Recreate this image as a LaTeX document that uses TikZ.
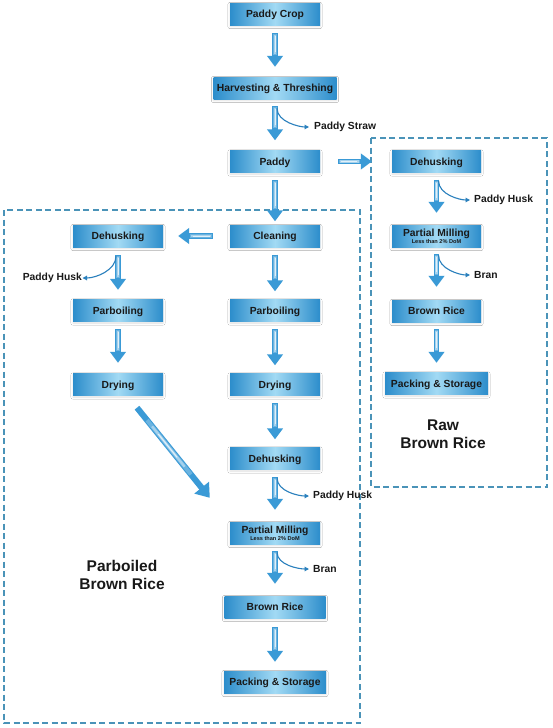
\documentclass[tikz,border=0pt]{standalone}
\usepackage{fontspec}
\setmainfont{Liberation Sans}
\usetikzlibrary{arrows.meta,calc,shadows.blur}
\definecolor{boxdark}{HTML}{2C8DCB}
\definecolor{boxlight}{HTML}{A2DAF4}
\definecolor{ablue}{HTML}{3A9AD6}
\definecolor{lblue}{HTML}{2A80BD}
\definecolor{dblue}{HTML}{4A93B8}
\begin{document}
\begin{tikzpicture}[x=1pt,y=-1pt,
  box/.style={rectangle, minimum height=22pt, minimum width=#1, inner sep=0pt,
    text height=7.5pt, text depth=0.3pt,
    left color=boxdark, right color=boxdark, middle color=boxlight,
    font=\bfseries\fontsize{10.3}{12}\selectfont, text=black!90,
    blur shadow={shadow xshift=0pt, shadow yshift=-1.5pt, shadow blur steps=5, shadow opacity=12}},
  box/.default=90pt,
  twoline/.style={align=center, text height=, text depth=},
  fa/.style 2 args={draw=ablue, line width=5.5pt, shorten <=#1, shorten >=#2,
    -{Triangle[width=15.5pt,length=11pt]},
    postaction={draw=ablue!75!white, line width=3.6pt, -, shorten <=#1+1pt, shorten >=#2+12pt},
    postaction={draw=ablue!45!white, line width=2.2pt, -, shorten <=#1+2pt, shorten >=#2+13pt},
    postaction={draw=ablue!15!white, line width=0.9pt, -, shorten <=#1+3pt, shorten >=#2+15pt}},
  fd/.style={draw=ablue, line width=6pt, -{Triangle[width=18pt,length=13pt]},
    postaction={draw=ablue!75!white, line width=4pt, -, shorten <=16pt, shorten >=30pt},
    postaction={draw=ablue!45!white, line width=2.4pt, -, shorten <=24pt, shorten >=40pt},
    postaction={draw=ablue!15!white, line width=1pt, -, shorten <=34pt, shorten >=52pt}},
  sa/.style={draw=lblue, line width=1.1pt, -{Triangle[length=4.5pt,width=4.5pt]}},
  lab/.style={inner sep=0pt, font=\bfseries\fontsize{10.3}{12}\selectfont, text=black!90},
  big/.style={inner sep=0pt, align=center, font=\bfseries\fontsize{15.5}{18}\selectfont, text=black!90},
  dashbox/.style={draw=dblue, line width=1.1pt, dash pattern=on 6pt off 3.5pt}
]
\useasboundingbox[fill=white] (0,0) rectangle (553,728);

% dashed regions
\draw[dashbox] (4,210) rectangle (360,723);
\draw[dashbox] (371,138) rectangle (547,487);

% centre column
\node[box] (crop) at (275,14) {Paddy Crop};
\node[box=123pt] (harv) at (275,88) {Harvesting \& Threshing};
\node[box] (paddy) at (275,161.5) {Paddy};
\node[box] (clean) at (275,236) {Cleaning};
\node[box] (cparb) at (275,310.5) {Parboiling};
\node[box] (cdry) at (275,384.5) {Drying};
\node[box] (cdeh) at (275,458.5) {Dehusking};
\node[box, twoline] (cpm) at (275,533) {Partial Milling\\[-5pt]{\fontsize{5.6}{6}\selectfont Less than 2\% DoM}};
\node[box=101pt] (cbr) at (275,607) {Brown Rice};
\node[box=102pt] (cps) at (275,682) {Packing \& Storage};

% left column
\node[box] (ldeh) at (118,236) {Dehusking};
\node[box] (lparb) at (118,310.5) {Parboiling};
\node[box] (ldry) at (118,384.5) {Drying};

% right column
\node[box=89pt] (rdeh) at (436.5,161.5) {Dehusking};
\node[box=89pt, twoline] (rpm) at (436.5,236) {Partial Milling\\[-5pt]{\fontsize{5.6}{6}\selectfont Less than 2\% DoM}};
\node[box=89pt] (rbr) at (436.5,311) {Brown Rice};
\node[box=103pt] (rps) at (436.5,383.5) {Packing \& Storage};

% side labels
\node[lab, anchor=west] (straw) at (314,127) {Paddy Straw};
\node[lab, anchor=west] (rhusk) at (474,200) {Paddy Husk};
\node[lab, anchor=west] (rbran) at (474,275) {Bran};
\node[lab, anchor=west] (chusk) at (313,496) {Paddy Husk};
\node[lab, anchor=west] (cbran) at (313,569) {Bran};
\node[lab, anchor=east] (lhusk) at (82,278) {Paddy Husk};

\node[big] (rawlab) at (443,434) {Raw\\Brown Rice};
\node[big] (parlab) at (122,575) {Parboiled\\Brown Rice};

% main flow arrows
\draw[fa={8pt}{10pt}] (crop) -- (harv);
\draw[fa={7pt}{10pt}] (harv) -- (paddy);
\draw[fa={7.5pt}{3.5pt}] (paddy) -- (clean);
\draw[fa={7.5pt}{8pt}] (clean) -- (cparb);
\draw[fa={7.5pt}{8pt}] (cparb) -- (cdry);
\draw[fa={7.5pt}{8pt}] (cdry) -- (cdeh);
\draw[fa={7.5pt}{12pt}] (cdeh) -- (cpm);
\draw[fa={7pt}{12pt}] (cpm) -- (cbr);
\draw[fa={9pt}{9pt}] (cbr) -- (cps);

\draw[fa={8pt}{9.5pt}] (ldeh) -- (lparb);
\draw[fa={7.5pt}{10.5pt}] (lparb) -- (ldry);

\draw[fa={7pt}{12pt}] (rdeh) -- (rpm);
\draw[fa={7pt}{13pt}] (rpm) -- (rbr);
\draw[fa={7pt}{9.5pt}] (rbr) -- (rps);

\draw[fa={18pt}{20pt}] (paddy) -- (rdeh);
\draw[fa={17pt}{15pt}] (clean) -- (ldeh);

\draw[fd] ($(ldry.south)+(19,12)$) -- ($(cpm.north west)+(-20,-24)$);

% by-product arrows
\draw[sa, shorten >=5pt] ($(harv.south)+(2,9)$) .. controls +(0,14) and +(-14,0) .. (straw.west);
\draw[sa, shorten >=4pt] ($(rdeh.south)+(2,8)$) .. controls +(0,14) and +(-14,0) .. (rhusk.west);
\draw[sa, shorten >=4pt] ($(rpm.south)+(2,8)$) .. controls +(0,14) and +(-14,0) .. (rbran.west);
\draw[sa, shorten >=4pt] ($(cdeh.south)+(2,8)$) .. controls +(0,14) and +(-14,0) .. (chusk.west);
\draw[sa, shorten >=4pt] ($(cpm.south)+(2,8)$) .. controls +(0,13) and +(-14,0) .. (cbran.west);
\draw[sa, shorten >=0.5pt] ($(ldeh.south)+(-2,9)$) .. controls +(0,14) and +(14,0) .. (lhusk.east);
\end{tikzpicture}
\end{document}
